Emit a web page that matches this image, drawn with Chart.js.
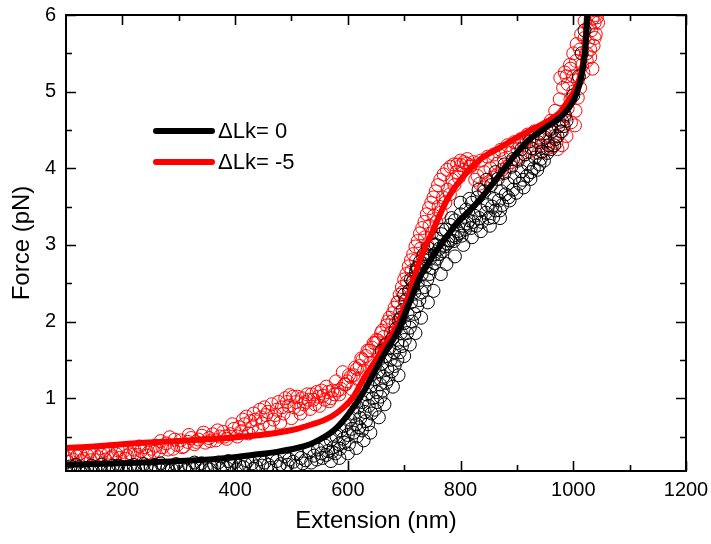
<!DOCTYPE html>
<html>
<head>
<meta charset="utf-8">
<script src="https://cdn.jsdelivr.net/npm/chart.js@4.4.1/dist/chart.umd.min.js"></script>
<style>
html,body{margin:0;padding:0;background:#fff;}
#wrap{width:711px;height:544px;}
</style>
</head>
<body>
<div id="wrap"><canvas id="c" width="711" height="544"></canvas></div>
<script>
// ---- tick values ----
const xMajorTicks = [200, 400, 600, 800, 1000, 1200];
const xMinorTicks = [300, 500, 700, 900, 1100];
const yMajorTicks = [1, 2, 3, 4, 5, 6];
const yMinorTicks = [0.5, 1.5, 2.5, 3.5, 4.5, 5.5];

// ---- legend labels ----
const legendLabels = ['\u0394Lk= 0', '\u0394Lk= -5'];

// ---- fit curve ΔLk = 0 (black) ----
const fit0X = [100,150,200,267,330,386,430,474,510,533,550,568,581,600,627,650,668,687,710,728,746,770,794,815,834,870,893,920,953,982,1000,1012,1018,1022,1025,1027];
const fit0Y = [0.13,0.14,0.15,0.17,0.19,0.22,0.26,0.30,0.35,0.40,0.46,0.54,0.62,0.78,1.07,1.38,1.62,1.85,2.26,2.58,2.80,3.05,3.29,3.44,3.59,3.92,4.14,4.36,4.54,4.70,4.88,5.12,5.35,5.60,6.00,6.30];

// ---- fit curve ΔLk = -5 (red) ----
const fit5X = [100,150,200,267,330,386,430,474,510,533,560,581,610,627,650,668,687,710,728,750,776,800,834,870,893,920,953,975,989,1000,1012,1018,1022,1025];
const fit5Y = [0.35,0.37,0.40,0.43,0.455,0.48,0.51,0.55,0.60,0.65,0.72,0.81,1.02,1.24,1.50,1.72,1.93,2.38,2.80,3.17,3.59,3.85,4.11,4.27,4.37,4.48,4.61,4.72,4.86,4.98,5.19,5.40,5.70,6.10];

// ---- measured points ΔLk = 0 (black circles) ----
const data0X = [100,108,115,122,130,137,145,152,160,168,175,183,190,198,205,213,220,228,236,243,250,258,265,273,280,288,295,303,310,318,325,333,340,348,355,363,370,378,385,393,
400,407,415,422,430,437,444,452,459,466,474,481,488,496,503,510,517,525,532,540,547,
553,560,565,570,575,580,584,588,592,596,600,604,607,611,615,618,
622,626,630,633,637,640,644,647,651,654,657,660,663,667,670,673,676,679,682,685,688,691,694,697,700,703,706,709,712,715,718,721,724,728,731,735,738,742,746,750,754,758,762,766,770,774,778,782,786,790,795,800,805,810,815,820,825,830,836,842,848,854,860,866,872,878,884,890,896,902,908,914,920,926,932,938,944,950,956,962,968,974,980,985,
858,870,885,911,925,940,1000,1010,1015,1020,
612,640,668,694,716,735,752,700,722,660,
104,118,133,148,163,178,193,208,223,238,253,268,283,298,313,328,343,358,373,388,403,418,433,448,463,478,493,508,520,535,545,555,562,572,578,586,594,602,610,616,620,625,632,636,642,648,652,658,662,668,672,678,683,688,692,696,701,705,710,714,718,723,727,732,736,741,745,749,754,758,763,768,772,777,782,788,792,797,802,808,812,818,822,828,833,838,845,850,856,862,868,874,880,887,893,899,905,912,918,924,930,936,942,948,954,960,966,972,978,983,988,
712,724,740,756,768,784,800,816,832,846,862,878,893,908,922,940,958,
700,710,720,730,742,752,765,775,790,805,820,836,852,870,680,690,665,655,640,628,615,600,585,570];
const data0Y = [0.08,0.11,0.07,0.10,0.06,0.09,0.12,0.08,0.06,0.10,0.09,0.12,0.07,0.10,0.08,0.11,0.13,0.09,0.07,0.11,0.10,0.13,0.08,0.12,0.10,0.07,0.14,0.11,0.09,0.13,0.08,0.12,0.15,0.10,0.07,0.13,0.16,0.11,0.09,0.14,
0.17,0.12,0.10,0.18,0.15,0.11,0.20,0.16,0.13,0.22,0.18,0.14,0.24,0.20,0.17,0.27,0.22,0.19,0.30,0.25,0.33,
0.28,0.38,0.31,0.45,0.36,0.50,0.40,0.58,0.47,0.65,0.52,0.72,0.60,0.80,0.66,0.88,
0.74,0.95,0.82,1.05,0.90,1.15,1.00,1.25,1.08,1.35,1.18,1.45,1.28,1.55,1.38,1.65,1.50,1.78,1.60,1.90,1.72,2.02,1.85,2.15,1.98,2.28,2.10,2.40,2.25,2.52,2.38,2.65,2.50,2.78,2.62,2.88,2.72,2.96,2.82,3.02,2.88,3.08,2.95,3.14,3.00,3.20,3.06,3.26,3.12,3.32,3.18,3.40,3.25,3.46,3.32,3.55,3.38,3.62,3.45,3.70,3.52,3.78,3.60,3.86,3.70,3.94,3.80,4.02,3.88,4.10,3.96,4.18,4.05,4.26,4.14,4.34,4.22,4.40,4.30,4.48,4.38,4.55,4.62,4.70,
3.36,3.45,3.62,3.85,3.95,4.05,4.95,5.20,5.50,5.80,
0.95,1.30,1.70,2.05,2.45,2.75,3.00,2.35,2.70,1.62,
0.05,0.13,0.04,0.05,0.13,0.05,0.12,0.05,0.06,0.14,0.05,0.15,0.05,0.08,0.06,0.16,0.06,0.10,0.08,0.18,0.07,0.14,0.08,0.12,0.09,0.11,0.13,0.12,0.15,0.16,0.20,0.22,0.26,0.30,0.28,0.34,0.42,0.40,0.55,0.50,0.62,0.58,0.70,0.66,0.80,0.85,0.95,1.02,1.10,1.20,1.25,1.35,1.42,1.50,1.60,1.68,1.76,1.85,1.92,2.00,2.10,2.20,2.28,2.38,2.45,2.55,2.62,2.70,2.76,2.82,2.88,2.92,2.98,3.02,3.06,3.05,3.10,3.15,3.12,3.20,3.28,3.22,3.30,3.25,3.35,3.30,3.42,3.35,3.50,3.45,3.58,3.52,3.66,3.58,3.72,3.68,3.80,3.75,3.90,3.86,4.00,3.98,4.12,4.10,4.20,4.25,4.30,4.42,4.48,4.55,4.62,
2.55,2.70,2.85,3.00,3.20,3.35,3.55,3.60,3.72,3.85,3.95,4.05,4.12,4.25,4.35,4.45,4.50,
1.55,1.70,1.85,2.05,2.25,2.40,2.62,2.75,2.85,3.00,3.10,3.18,3.25,3.35,1.15,1.30,0.92,0.75,0.55,0.45,0.35,0.28,0.22,0.18];

// ---- measured points ΔLk = -5 (red circles) ----
const data5X = [100,106,112,119,125,131,138,144,150,157,163,170,176,182,189,195,201,208,214,221,227,233,240,246,252,259,265,271,278,284,290,297,303,309,316,322,328,335,341,347,354,360,366,373,379,385,392,398,404,411,417,420,424,430,436,442,444,449,455,461,468,474,480,486,492,497,500,505,511,516,522,528,533,539,545,550,556,562,567,573,579,585,591,596,602,607,613,618,624,629,635,640,646,651,656,661,666,671,676,680,685,689,693,697,701,705,709,713,717,721,725,729,733,737,741,745,749,753,757,761,765,769,773,777,781,785,789,793,797,801,806,811,817,823,830,836,842,848,853,859,865,871,877,883,889,895,901,907,913,919,925,931,937,943,949,955,961,967,970,975,980,985,990,995,1000,977,985,990,995,1000,1005,1008,1012,1016,1020,1024,1028,1030,1034,1038,1042,1036,1003,1040,
103,116,128,141,154,166,179,192,205,218,230,243,256,268,281,293,306,318,331,344,356,369,382,395,407,414,427,433,446,452,458,465,471,477,483,489,495,503,508,514,519,525,531,536,542,548,553,559,565,
570,576,582,588,594,599,605,610,616,621,626,632,638,643,649,
654,659,664,669,674,679,683,688,692,696,700,704,708,712,716,720,724,728,732,736,740,744,748,752,756,760,764,770,776,782,788,794,800,806,812,818,
826,834,842,850,858,866,874,882,890,898,906,914,922,930,938,946,954,962,972,980,988,996,1004,1008,1012,960,968,976,982,988,994,1000,1006,1014,1020,1026,1032,1038,1018,1024,1030,1034,1040,1044];
const data5Y = [0.22,0.26,0.20,0.24,0.28,0.21,0.25,0.19,0.27,0.23,0.26,0.20,0.29,0.24,0.27,0.22,0.30,0.25,0.28,0.33,0.26,0.31,0.36,0.29,0.34,0.38,0.31,0.36,0.41,0.49,0.34,0.39,0.45,0.37,0.43,0.48,0.40,0.46,0.51,0.42,0.48,0.53,0.45,0.50,0.56,0.47,0.53,0.60,0.50,0.57,0.66,0.76,0.54,0.62,0.72,0.58,0.85,0.67,0.78,0.63,0.72,0.85,0.68,0.80,0.95,1.04,0.74,0.88,1.02,0.80,0.92,1.05,0.86,0.98,1.08,0.90,1.03,1.15,0.96,1.10,1.22,1.05,1.34,1.18,1.30,1.12,1.40,1.25,1.52,1.36,1.62,1.46,1.72,1.76,1.58,1.88,1.70,2.00,1.85,2.11,1.98,2.25,2.12,2.38,2.26,2.52,2.40,2.66,2.55,2.80,2.70,2.95,2.85,3.10,3.00,3.25,3.15,3.38,3.30,3.50,3.42,3.62,3.55,3.72,3.66,3.85,3.78,3.95,3.88,4.04,3.98,4.06,4.02,4.08,3.90,4.10,3.95,4.15,4.00,4.18,4.06,4.24,4.12,4.30,4.20,4.34,4.25,4.38,4.30,4.44,4.36,4.48,4.40,4.30,4.45,4.35,4.52,4.42,4.33,4.60,4.48,4.68,4.78,4.90,5.00,5.18,5.25,5.10,5.30,5.20,5.40,5.15,5.55,5.35,5.70,5.50,5.85,5.45,5.95,5.70,5.97,5.60,4.56,6.00,
0.17,0.29,0.18,0.30,0.19,0.31,0.22,0.32,0.21,0.26,0.37,0.25,0.30,0.44,0.33,0.46,0.36,0.52,0.43,0.55,0.44,0.58,0.50,0.66,0.62,0.72,0.70,0.80,0.75,0.88,0.82,0.92,0.78,0.95,0.88,1.00,0.90,1.02,0.95,0.86,1.00,0.95,0.98,1.05,0.92,1.02,1.10,0.98,1.08,
1.00,1.05,1.10,1.12,1.18,1.22,1.28,1.30,1.38,1.42,1.50,1.55,1.62,1.66,1.72,
1.75,1.85,1.80,1.95,2.05,2.00,2.18,2.25,2.35,2.45,2.55,2.62,2.72,2.80,2.88,2.98,3.05,3.15,3.22,3.30,3.40,3.48,3.55,3.62,3.70,3.78,3.85,3.92,3.98,4.02,4.05,4.05,4.10,4.08,4.12,4.04,
3.85,3.80,3.75,3.82,3.88,3.92,3.98,4.02,4.08,4.12,4.15,4.18,4.22,4.25,4.20,4.22,4.26,4.28,4.25,4.30,4.42,4.60,4.75,4.92,5.05,4.62,4.75,4.90,5.05,5.20,5.35,5.50,5.62,5.75,5.92,5.65,5.80,5.90,5.25,5.40,5.55,5.30,5.75,5.90];

function pts(xs, ys){ return xs.map((x,i)=>({x:x, y:ys[i]})); }

const frameTicks = {
  id: 'frameTicks',
  afterDraw(chart){
    const {ctx, chartArea:a, scales:{x, y}} = chart;
    ctx.save();
    ctx.strokeStyle = '#000';
    ctx.lineWidth = 1.6;
    ctx.beginPath();
    const tk = (list, len) => {
      list.forEach(v => {
        const px = Math.round(x.getPixelForValue(v)) + 0.5;
        ctx.moveTo(px, a.bottom); ctx.lineTo(px, a.bottom - len);
        ctx.moveTo(px, a.top); ctx.lineTo(px, a.top + len);
      });
    };
    const tky = (list, len) => {
      list.forEach(v => {
        const py = Math.round(y.getPixelForValue(v)) + 0.5;
        ctx.moveTo(a.left, py); ctx.lineTo(a.left + len, py);
        ctx.moveTo(a.right, py); ctx.lineTo(a.right - len, py);
      });
    };
    tk(xMajorTicks, 10); tk(xMinorTicks, 6);
    tky(yMajorTicks, 10); tky(yMinorTicks, 6);
    ctx.stroke();
    ctx.lineWidth = 2;
    ctx.strokeRect(a.left, a.top, a.right - a.left, a.bottom - a.top);
    // legend
    const rows = [{c:'#000', t:legendLabels[0], y:131}, {c:'#ff0000', t:legendLabels[1], y:162}];
    ctx.lineCap = 'round';
    ctx.font = '22px "Liberation Sans", Arial, sans-serif';
    ctx.textBaseline = 'middle';
    ctx.textAlign = 'left';
    rows.forEach(r => {
      ctx.strokeStyle = r.c; ctx.lineWidth = 6;
      ctx.beginPath(); ctx.moveTo(156, r.y); ctx.lineTo(212, r.y); ctx.stroke();
      ctx.fillStyle = '#000';
      ctx.fillText(r.t, 218, r.y + 1);
    });
    ctx.restore();
  }
};

const tickFont = {family: '"Liberation Sans", Arial, sans-serif', size: 20};
const titleFont = {family: '"Liberation Sans", Arial, sans-serif', size: 24};

new Chart(document.getElementById('c'), {
  type: 'scatter',
  data: {
    datasets: [
      {type:'line', label:legendLabels[0], data: pts(fit0X, fit0Y), borderColor:'#000', borderWidth:6, pointRadius:0, fill:false, cubicInterpolationMode:'monotone', clip:0},
      {type:'line', label:legendLabels[1], data: pts(fit5X, fit5Y), borderColor:'#ff0000', borderWidth:6, pointRadius:0, fill:false, cubicInterpolationMode:'monotone', clip:0},
      {label:'data0', data: pts(data0X, data0Y), borderColor:'#000', backgroundColor:'rgba(0,0,0,0)', pointRadius:6.5, borderWidth:1, clip:0},
      {label:'data5', data: pts(data5X, data5Y), borderColor:'#ff0000', backgroundColor:'rgba(0,0,0,0)', pointRadius:6.5, borderWidth:1, clip:0}
    ]
  },
  options: {
    responsive: false,
    animation: false,
    layout: {padding: {left:0, top:15, right:25, bottom:0}},
    plugins: {legend:{display:false}, tooltip:{enabled:false}},
    scales: {
      x: {
        type:'linear', min:100, max:1200,
        grid:{display:false, drawTicks:false}, border:{display:false},
        afterFit(s){ s.height = 73; s.paddingLeft = 0; s.paddingRight = 0; },
        afterBuildTicks(s){ s.ticks = xMajorTicks.map(v=>({value:v})); },
        ticks:{color:'#000', font:tickFont, padding:7, maxRotation:0, callback:(v)=>String(v)},
        title:{display:true, text:'Extension (nm)', color:'#000', font:titleFont, padding:{top:0,bottom:8}}
      },
      y: {
        type:'linear', min:0.05, max:6,
        grid:{display:false, drawTicks:false}, border:{display:false},
        afterFit(s){ s.width = 66; s.paddingTop = 0; s.paddingBottom = 0; },
        afterBuildTicks(s){ s.ticks = yMajorTicks.map(v=>({value:v})); },
        ticks:{color:'#000', font:tickFont, padding:10, callback:(v)=>String(v)},
        title:{display:true, text:'Force (pN)', color:'#000', font:titleFont, padding:{top:8,bottom:0}}
      }
    }
  },
  plugins:[frameTicks]
});
</script>
</body>
</html>
